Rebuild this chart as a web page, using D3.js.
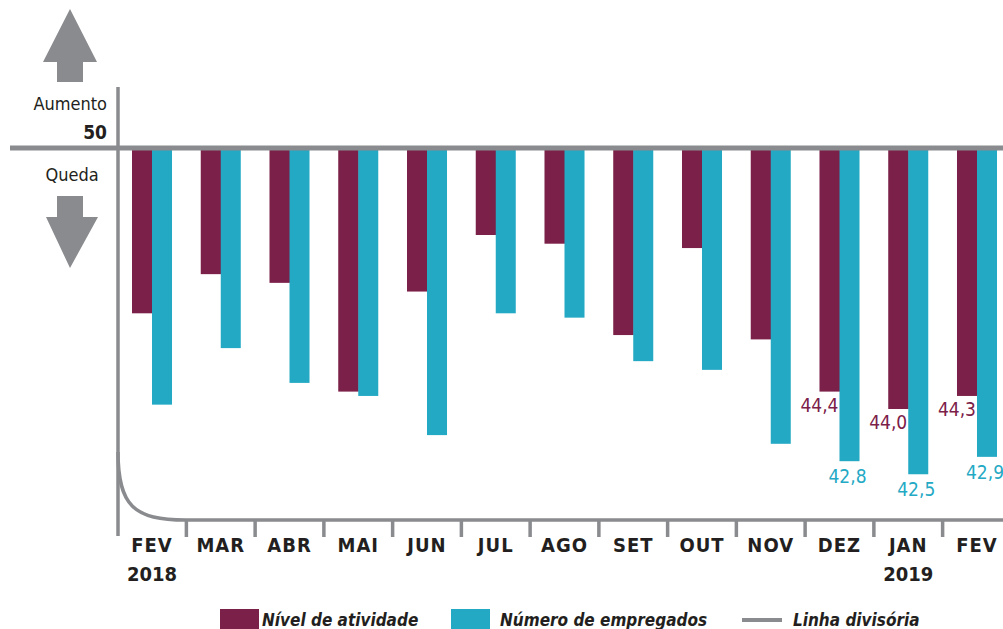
<!DOCTYPE html>
<html>
<head>
<meta charset="utf-8">
<script src="https://cdn.jsdelivr.net/npm/d3@7"></script>
<style>
body { margin: 0; background: #fff; }
svg { display: block; font-family: "Liberation Sans Narrow", "DejaVu Sans Condensed", sans-serif; }
</style>
</head>
<body>
<svg width="1003" height="629"></svg>
<script>
const months = ["FEV", "MAR", "ABR", "MAI", "JUN", "JUL", "AGO", "SET", "OUT", "NOV", "DEZ", "JAN", "FEV"];
const years = ["2018", "", "", "", "", "", "", "", "", "", "", "2019", ""];
const atividade = [46.2, 47.1, 46.9, 44.4, 46.7, 48.0, 47.8, 45.7, 47.7, 45.6, 44.4, 44.0, 44.3];
const empregados = [44.1, 45.4, 44.6, 44.3, 43.4, 46.2, 46.1, 45.1, 44.9, 43.2, 42.8, 42.5, 42.9];
const labelled = [10, 11, 12];
const seriesNames = ["Nível de atividade", "Número de empregados"];

const maroon = "#7b2048", cyan = "#23a9c4", gray = "#8a8b8e", ink = "#231f20";
const svg = d3.select("svg");

const data = months.map((m, i) => ({ i, m, year: years[i], a: atividade[i], e: empregados[i] }));

const x = d3.scaleBand().domain(d3.range(months.length)).range([132, 997]).paddingInner(0.418).paddingOuter(0);
const xs = d3.scaleBand().domain(["a", "e"]).range([0, x.bandwidth()]);
const y = d3.scaleLinear().domain([42, 50]).range([496, 148]);

const axisY = 520, leftX = 118;

// axes frame
svg.append("line").attr("x1", leftX).attr("x2", leftX).attr("y1", 87).attr("y2", 536)
	.attr("stroke", gray).attr("stroke-width", 3.5);
svg.append("path").attr("d", `M${leftX},452 C${leftX},506 134,${axisY} 186,${axisY} L1003,${axisY}`)
	.attr("fill", "none").attr("stroke", gray).attr("stroke-width", 3.5);

// ticks between groups
const step = x.step();
svg.selectAll(".tick").data(d3.range(months.length - 1)).join("line")
	.attr("x1", (d) => x(d) + x.bandwidth() + (step - x.bandwidth()) / 2)
	.attr("x2", (d) => x(d) + x.bandwidth() + (step - x.bandwidth()) / 2)
	.attr("y1", axisY).attr("y2", 537)
	.attr("stroke", gray).attr("stroke-width", 3.5);

// bars
const g = svg.selectAll(".grp").data(data).join("g").attr("transform", (d) => `translate(${x(d.i)},0)`);
g.append("rect").attr("x", xs("a")).attr("width", xs.bandwidth() + 0.5)
	.attr("y", y(50)).attr("height", (d) => y(d.a) - y(50)).attr("fill", maroon);
g.append("rect").attr("x", xs("e")).attr("width", xs.bandwidth())
	.attr("y", y(50)).attr("height", (d) => y(d.e) - y(50)).attr("fill", cyan);

// dividing line at 50
svg.append("line").attr("x1", 10).attr("x2", 1003).attr("y1", y(50)).attr("y2", y(50))
	.attr("stroke", gray).attr("stroke-width", 5);

// value labels
const fmt = (v) => v.toFixed(1).replace(".", ",");
const lab = data.filter((d) => labelled.includes(d.i));
svg.selectAll(".la").data(lab).join("text")
	.attr("x", (d) => x(d.i) + xs("a") + xs.bandwidth() - 1)
	.attr("y", (d) => y(d.a) + 20)
	.attr("text-anchor", "end").attr("font-size", 19).attr("fill", maroon)
	.text((d) => fmt(d.a));
svg.selectAll(".le").data(lab).join("text")
	.attr("x", (d) => x(d.i) + xs("e") + xs.bandwidth() / 2 - 2)
	.attr("y", (d) => y(d.e) + 22)
	.attr("text-anchor", "middle").attr("font-size", 19).attr("fill", cyan)
	.text((d) => fmt(d.e));

// month labels
svg.selectAll(".mo").data(data).join("text")
	.attr("x", (d) => x(d.i) + x.bandwidth() / 2)
	.attr("y", 552).attr("text-anchor", "middle")
	.attr("font-size", 20).attr("font-weight", "bold").attr("fill", ink)
	.attr("letter-spacing", 1)
	.text((d) => d.m);
svg.selectAll(".yr").data(data.filter((d) => d.year)).join("text")
	.attr("x", (d) => x(d.i) + x.bandwidth() / 2)
	.attr("y", 581).attr("text-anchor", "middle")
	.attr("font-size", 20).attr("font-weight", "bold").attr("fill", ink)
	.text((d) => d.year);

// left side annotations
svg.append("path").attr("d", "M70,9 L97,62 L83,62 L83,82 L57,82 L57,62 L43,62 Z").attr("fill", gray);
svg.append("path").attr("d", "M57,196 L83,196 L83,217 L98,217 L70,268 L46,217 L57,217 Z").attr("fill", gray);
svg.append("text").attr("x", 107).attr("y", 110).attr("text-anchor", "end")
	.attr("font-size", 18).attr("fill", ink).text("Aumento");
svg.append("text").attr("x", 107).attr("y", 139).attr("text-anchor", "end")
	.attr("font-size", 19).attr("font-weight", "bold").attr("fill", ink).text("50");
svg.append("text").attr("x", 72).attr("y", 181).attr("text-anchor", "middle")
	.attr("font-size", 18).attr("fill", ink).text("Queda");

// legend
const legend = svg.append("g").attr("font-size", 17).attr("font-weight", "bold").attr("font-style", "italic").attr("fill", ink);
const items = [
	{ name: seriesNames[0], color: maroon, x: 220, tx: 262, type: "box" },
	{ name: seriesNames[1], color: cyan, x: 451, tx: 500, type: "box" },
	{ name: "Linha divisória", color: gray, x: 742, tx: 793, type: "line" }
];
items.forEach((it) => {
	if (it.type === "box") {
		legend.append("rect").attr("x", it.x).attr("y", 609).attr("width", 39).attr("height", 20).attr("fill", it.color);
	} else {
		legend.append("line").attr("x1", it.x).attr("x2", it.x + 40).attr("y1", 620).attr("y2", 620)
			.attr("stroke", it.color).attr("stroke-width", 4);
	}
	legend.append("text").attr("x", it.tx).attr("y", 626).text(it.name);
});
</script>
</body>
</html>
